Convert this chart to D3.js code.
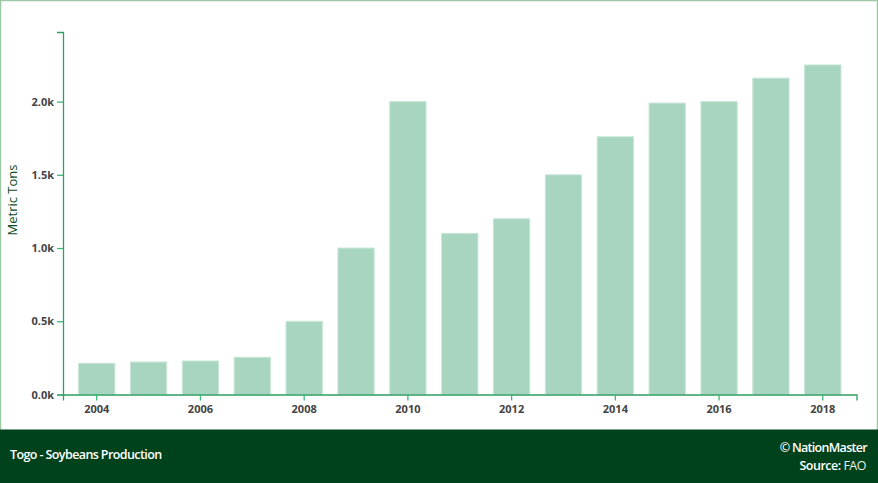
<!DOCTYPE html>
<html><head><meta charset="utf-8">
<script src="https://cdn.jsdelivr.net/npm/d3@7"></script>
<style>
html,body{margin:0;padding:0;background:#fff;}
svg{display:block;font-family:"Open Sans","Noto Sans",sans-serif;}
</style></head>
<body>
<svg id="chart" width="878" height="483"></svg>
<script>
const years = [2004,2005,2006,2007,2008,2009,2010,2011,2012,2013,2014,2015,2016,2017,2018];
const production = [213,222,229,254,500,1000,2000,1100,1200,1500,1760,1990,2000,2160,2250];
const xTickYears = [2004,2006,2008,2010,2012,2014,2016,2018];
const yTicks = [0,500,1000,1500,2000];
const title = "Togo - Soybeans Production";
const yLabel = "Metric Tons";

const svg = d3.select("#chart");
const W = 878, H = 483;
const m = {left:63, right:21.5, top:32, bottom:88.5};

// border
svg.append("rect").attr("x",0.5).attr("y",0.5).attr("width",W-1).attr("height",H-1)
  .attr("fill","#fff").attr("stroke","#9dc9a7").attr("stroke-width",1.5);

const x = d3.scaleBand().domain(years).range([m.left, W-m.right]).paddingInner(0.3).paddingOuter(0.3);
const y = d3.scaleLinear().domain([0, d3.max(production)*1.1]).range([H-m.bottom, m.top]);

svg.append("g").selectAll("rect").data(years).join("rect")
  .attr("x", d=>x(d)).attr("width", x.bandwidth())
  .attr("y", (d,i)=>y(production[i])).attr("height", (d,i)=>y(0)-y(production[i]))
  .attr("fill","#a8d5c0").attr("stroke","#c9e7d9").attr("stroke-width",1);

const xAxis = svg.append("g").attr("transform",`translate(0,${y(0)})`)
  .call(d3.axisBottom(x).tickValues(xTickYears).tickSize(6).tickPadding(5));
const yAxis = svg.append("g").attr("transform",`translate(${m.left},0)`)
  .call(d3.axisLeft(y).tickValues(yTicks).tickFormat(d=>(d/1000).toFixed(1)+"k").tickSize(6).tickPadding(3));

[xAxis,yAxis].forEach(g=>{
  g.selectAll("path.domain").attr("stroke","#2e9e62").attr("stroke-width",1.3);
  g.selectAll(".tick line").attr("stroke","#3cb878").attr("stroke-width",1.3);
  g.selectAll("text").attr("fill","#444").attr("font-size","11px").attr("font-weight","700")
    .attr("font-family","'Open Sans',sans-serif");
});

svg.append("text").attr("transform","translate(16.5,200) rotate(-90)")
  .attr("text-anchor","middle").attr("fill","#0d4d26").attr("font-size","13px").text(yLabel);

// footer
svg.append("rect").attr("x",0).attr("y",429.5).attr("width",W).attr("height",H-429.5).attr("fill","#00421c");
svg.append("text").attr("x",10).attr("y",459).attr("fill","#fff").attr("font-size","12.5px")
  .attr("font-weight","600").attr("letter-spacing","-0.6").text(title);
svg.append("text").attr("x",867).attr("y",452).attr("text-anchor","end").attr("fill","#fff")
  .attr("font-size","12.5px").attr("font-weight","600").attr("letter-spacing","-0.7").text("© NationMaster");
const src = svg.append("text").attr("x",866).attr("y",469.5).attr("text-anchor","end").attr("fill","#fff")
  .attr("font-size","12.5px").attr("letter-spacing","-0.5");
src.append("tspan").attr("font-weight","600").text("Source:  ");
src.append("tspan").attr("font-weight","400").attr("fill","#e8efe9").text("FAO");
</script>
</body></html>
